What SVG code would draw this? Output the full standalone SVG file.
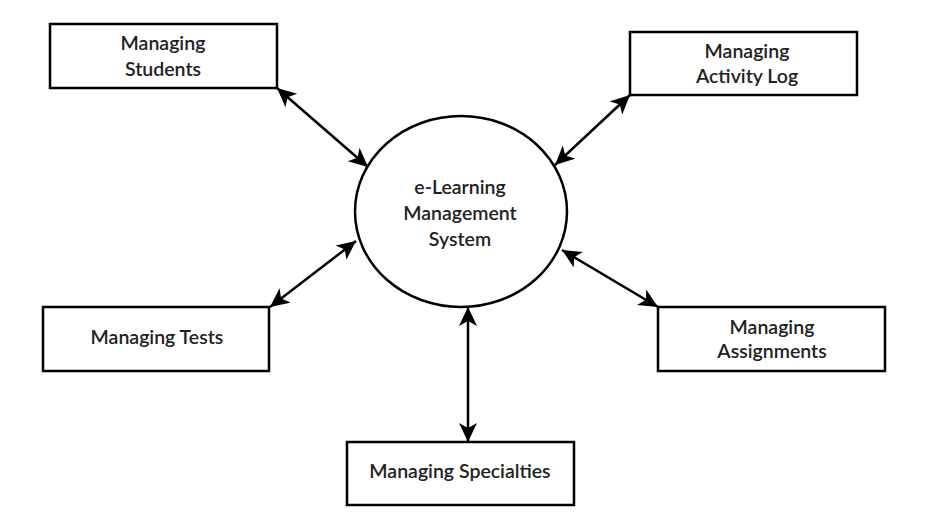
<svg xmlns="http://www.w3.org/2000/svg" width="936" height="530" viewBox="0 0 936 530">
<style>
.box{fill:#fff;stroke:#000;stroke-width:2.5}
.ell{fill:#fff;stroke:#000;stroke-width:2.5}
.lbl{font-family:Lato,"Liberation Sans",sans-serif;font-size:19.5px;font-weight:600;fill:#222;text-anchor:middle}
.con{stroke:#000;stroke-width:2.5;fill:none;marker-start:url(#ah);marker-end:url(#ah)}
</style>
<defs>
<marker id="ah" markerUnits="userSpaceOnUse" markerWidth="22" markerHeight="20" refX="19" refY="9" orient="auto-start-reverse">
<path d="M0,0 L19,9 L0,18 L5,9 z" fill="#000"/>
</marker>
</defs>
<rect width="936" height="530" fill="#fff"/>
<g id="connectors">
<line class="con" x1="277" y1="88" x2="368" y2="167"/>
<line class="con" x1="630" y1="95" x2="555" y2="165"/>
<line class="con" x1="270" y1="307" x2="356" y2="241"/>
<line class="con" x1="562" y1="250" x2="658" y2="307"/>
<line class="con" x1="468" y1="307" x2="468" y2="442"/>
</g>
<g id="center">
<ellipse class="ell" cx="461" cy="211.5" rx="106" ry="95.5"/>
<text class="lbl" x="460" y="194">e-Learning</text>
<text class="lbl" x="460" y="220">Management</text>
<text class="lbl" x="460" y="246">System</text>
</g>
<g id="students">
<rect class="box" x="50" y="24" width="227" height="64"/>
<text class="lbl" x="163" y="50">Managing</text>
<text class="lbl" x="163" y="76">Students</text>
</g>
<g id="activitylog">
<rect class="box" x="630" y="32" width="227" height="63"/>
<text class="lbl" x="747" y="58">Managing</text>
<text class="lbl" x="747" y="83">Activity Log</text>
</g>
<g id="tests">
<rect class="box" x="43" y="307" width="226" height="64"/>
<text class="lbl" x="157" y="344">Managing Tests</text>
</g>
<g id="assignments">
<rect class="box" x="658" y="307" width="227" height="64"/>
<text class="lbl" x="772" y="334">Managing</text>
<text class="lbl" x="772" y="358">Assignments</text>
</g>
<g id="specialties">
<rect class="box" x="347" y="442" width="227" height="63"/>
<text class="lbl" x="460" y="478">Managing Specialties</text>
</g>
</svg>
